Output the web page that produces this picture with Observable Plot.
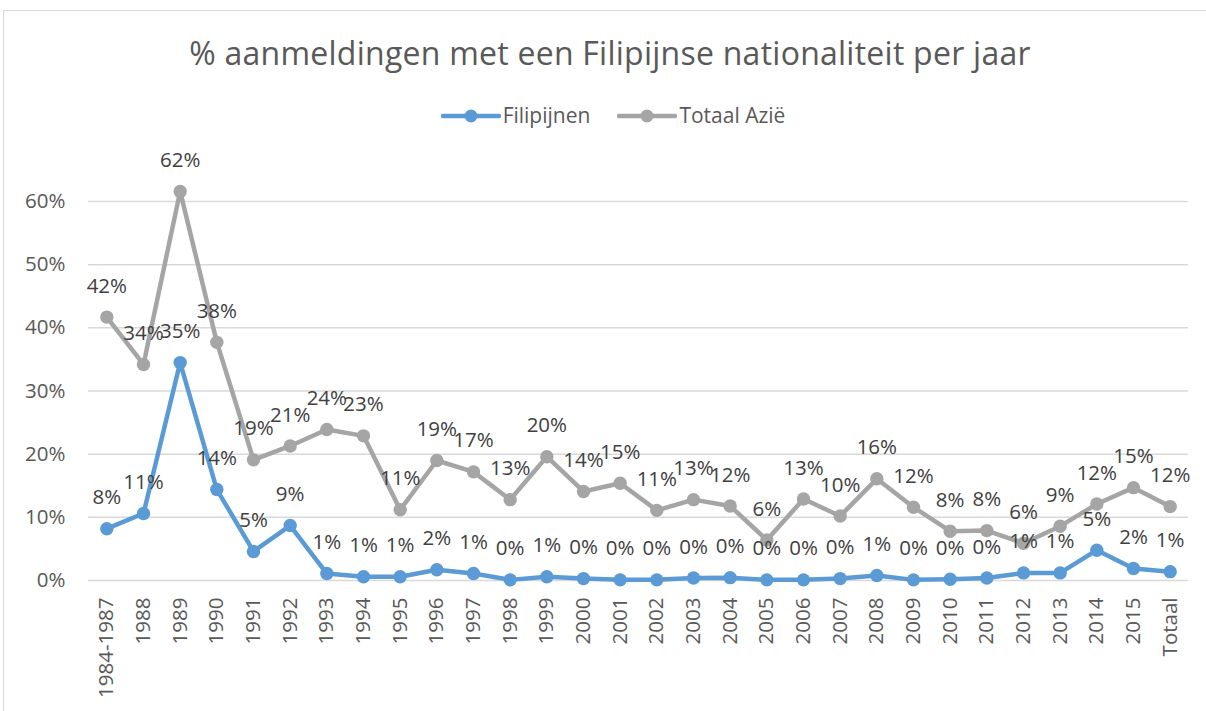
<!DOCTYPE html>
<html>
<head>
<meta charset="utf-8">
<script src="https://cdn.jsdelivr.net/npm/d3@7"></script>
<script src="https://cdn.jsdelivr.net/npm/@observablehq/plot@0.6"></script>
<style>
  html, body { margin: 0; padding: 0; background: #fff; }
  body { width: 1206px; height: 711px; position: relative; overflow: hidden; font-family: "Open Sans", "Noto Sans", sans-serif; }
  #frame { position: absolute; left: 3px; top: 10px; width: 1215px; height: 710px; border: 1px solid #d9d9d9; box-sizing: border-box; }
  #title { position: absolute; left: 0; width: 1220px; top: 31px; text-align: center; font-size: 32px; font-weight: 400; letter-spacing: 0.25px; color: #595959; white-space: nowrap; line-height: 1.362; }
  #legend { position: absolute; top: 101px; left: 0; width: 1226px; height: 29px; display: flex; justify-content: center; align-items: center; gap: 27px; font-size: 21px; font-weight: 400; color: #595959; line-height: 1.362; }
  .item { display: flex; align-items: center; gap: 2px; }
  #chart { position: absolute; left: 0; top: 140px; width: 1206px; }
</style>
</head>
<body>
<div id="frame"></div>
<div id="title">% aanmeldingen met een Filipijnse nationaliteit per jaar</div>
<div id="legend"></div>
<div id="chart"></div>
<script>
const categories = ["1984-1987","1988","1989","1990","1991","1992","1993","1994","1995","1996","1997","1998","1999","2000","2001","2002","2003","2004","2005","2006","2007","2008","2009","2010","2011","2012","2013","2014","2015","Totaal"];
const filipijnen = [0.082,0.106,0.345,0.144,0.046,0.087,0.011,0.006,0.006,0.017,0.011,0.001,0.006,0.003,0.001,0.001,0.004,0.0045,0.001,0.001,0.003,0.008,0.001,0.002,0.004,0.012,0.012,0.048,0.019,0.014];
const totaalAzie = [0.417,0.342,0.616,0.377,0.191,0.213,0.239,0.229,0.112,0.19,0.172,0.128,0.196,0.141,0.154,0.111,0.128,0.118,0.064,0.129,0.102,0.161,0.116,0.078,0.079,0.059,0.086,0.121,0.147,0.117];
const seriesNames = ["Filipijnen", "Totaal Azië"];
const colors = ["#5B9BD5", "#A5A5A5"];
const yTicks = [0, 0.1, 0.2, 0.3, 0.4, 0.5, 0.6];

const data = [];
[filipijnen, totaalAzie].forEach((vals, s) => {
  vals.forEach((v, i) => data.push({cat: categories[i], value: v, series: seriesNames[s]}));
});

const legend = document.getElementById("legend");
seriesNames.forEach((name, i) => {
  const el = document.createElement("div");
  el.className = "item";
  el.innerHTML = `<svg width="60" height="16"><line x1="2" x2="58" y1="8" y2="8" stroke="${colors[i]}" stroke-width="4.5" stroke-linecap="round"/><circle cx="30" cy="8" r="6.5" fill="${colors[i]}"/></svg><span>${name}</span>`;
  legend.appendChild(el);
});

const pct = d => Math.round(d * 100) + "%";
const labelFont = "'Open Sans', 'Noto Sans', sans-serif";

const chart = Plot.plot({
  width: 1206,
  height: 571,
  marginTop: 61,
  marginBottom: 131,
  marginLeft: 88,
  marginRight: 18,
  style: {fontFamily: labelFont, color: "#595959", overflow: "visible"},
  x: {type: "band", domain: categories, padding: 0, round: false, label: null},
  y: {domain: [0, 0.6], label: null},
  color: {domain: seriesNames, range: colors},
  marks: [
    Plot.gridY(yTicks, {stroke: "#d9d9d9", strokeOpacity: 1, strokeWidth: 1.5}),
    Plot.axisY(yTicks, {tickFormat: pct, tickSize: 0, tickPadding: 23, fontSize: 20.5, fill: "#595959", label: null}),
    Plot.axisX({tickSize: 0, tickRotate: -90, tickPadding: 17, fontSize: 20.5, fill: "#595959", label: null}),
    Plot.line(data, {x: "cat", y: "value", z: "series", stroke: "series", strokeWidth: 4.5, clip: false}),
    Plot.dot(data, {x: "cat", y: "value", fill: "series", r: 6.7, clip: false}),
    Plot.text(data, {x: "cat", y: "value", text: d => pct(d.value), dy: -31, fontSize: 20.5, fill: "#404040"})
  ]
});
document.getElementById("chart").appendChild(chart);
</script>
</body>
</html>
